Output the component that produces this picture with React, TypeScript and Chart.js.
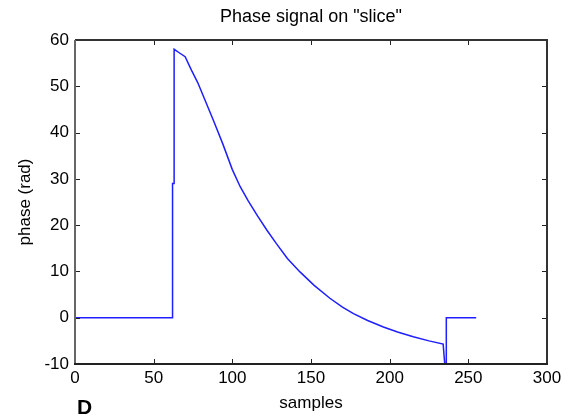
import React, { useEffect, useRef } from "react";
import { Chart, registerables } from "chart.js";

Chart.register(...registerables);

const titleText = 'Phase signal on "slice"';
const xLabel = "samples";
const yLabel = "phase (rad)";
const panelLetter = "D";

const sampleX = [0, 62, 62, 63, 63, 66, 70, 74, 78, 83, 88, 94, 100, 105, 110, 116, 122, 128, 135, 143, 152, 162, 170, 177, 186, 196, 205, 215, 225, 234, 235, 236, 236, 255];
const phase = [0, 0, 29, 29, 58, 57.3, 56.4, 53.5, 50.8, 46.7, 42.6, 37.5, 32, 28.3, 25.3, 22, 18.9, 16, 12.8, 9.9, 7.0, 4.2, 2.3, 0.9, -0.6, -2.0, -3.1, -4.1, -5.0, -5.7, -10, -10, 0, 0];

const xMin = 0, xMax = 300, xStep = 50;
const yMin = -10, yMax = 60, yStep = 10;

const FONT = "'Liberation Sans', Arial, sans-serif";

const boxPlugin = {
  id: "boxPlugin",
  afterDraw(chart: any) {
    const { ctx, chartArea } = chart;
    const { left, right, top, bottom } = chartArea;
    const xs = chart.scales.x;
    const ys = chart.scales.y;
    ctx.save();
    // ticks inside
    ctx.strokeStyle = "#222";
    ctx.lineWidth = 1;
    const tl = 5;
    xs.ticks.forEach((t: any) => {
      const px = Math.round(xs.getPixelForValue(t.value)) + 0.5;
      if (px <= left + 1 || px >= right - 1) return;
      ctx.beginPath();
      ctx.moveTo(px, bottom);
      ctx.lineTo(px, bottom - tl);
      ctx.moveTo(px, top);
      ctx.lineTo(px, top + tl);
      ctx.stroke();
    });
    ys.ticks.forEach((t: any) => {
      const py = Math.round(ys.getPixelForValue(t.value)) + 0.5;
      if (py <= top + 1 || py >= bottom - 1) return;
      ctx.beginPath();
      ctx.moveTo(left, py);
      ctx.lineTo(left + tl, py);
      ctx.moveTo(right, py);
      ctx.lineTo(right - tl, py);
      ctx.stroke();
    });
    // box
    ctx.lineWidth = 2;
    ctx.strokeStyle = "#333";
    ctx.beginPath();
    ctx.moveTo(left, top);
    ctx.lineTo(right, top);
    ctx.lineTo(right, bottom);
    ctx.stroke();
    ctx.strokeStyle = "#666";
    ctx.beginPath();
    ctx.moveTo(left, top);
    ctx.lineTo(left, bottom);
    ctx.stroke();
    ctx.strokeStyle = "#222";
    ctx.beginPath();
    ctx.moveTo(left - 1, bottom);
    ctx.lineTo(right + 1, bottom);
    ctx.stroke();
    // title
    ctx.fillStyle = "#000";
    ctx.font = `18px ${FONT}`;
    ctx.textAlign = "center";
    ctx.textBaseline = "middle";
    ctx.fillText(titleText, (left + right) / 2, 17);
    // panel letter
    ctx.font = `bold 21px ${FONT}`;
    ctx.textAlign = "left";
    ctx.fillText(panelLetter, 77, 408);
    ctx.restore();
  },
};

export default function App() {
  const ref = useRef<HTMLCanvasElement>(null);
  useEffect(() => {
    if (!ref.current) return;
    const points = sampleX.map((x, i) => ({ x, y: phase[i] }));
    const chart = new Chart(ref.current, {
      type: "line",
      data: {
        datasets: [
          {
            data: points,
            borderColor: "rgb(30,30,255)",
            borderWidth: 1.5,
            pointRadius: 0,
            tension: 0,
            fill: false,
          },
        ],
      },
      options: {
        animation: false,
        responsive: false,
        layout: { padding: { top: 40, right: 24, left: 0, bottom: 0 } },
        plugins: { legend: { display: false }, tooltip: { enabled: false }, title: { display: false } },
        scales: {
          x: {
            type: "linear",
            min: xMin,
            max: xMax,
            afterFit: (s: any) => { s.height = 55; },
            ticks: { stepSize: xStep, color: "#000", padding: 4, font: { size: 17, family: FONT } },
            grid: { display: false, drawTicks: false },
            border: { display: false },
            title: { display: true, text: xLabel, color: "#000", font: { size: 17, family: FONT }, padding: { top: 0, bottom: 5 } },
          },
          y: {
            type: "linear",
            min: yMin,
            max: yMax,
            afterFit: (s: any) => { s.width = 75; },
            ticks: { stepSize: yStep, color: "#000", padding: 6, font: { size: 17, family: FONT } },
            grid: { display: false, drawTicks: false },
            border: { display: false },
            title: { display: true, text: yLabel, color: "#000", font: { size: 17, family: FONT }, padding: { top: 15, bottom: 0 } },
          },
        },
      },
      plugins: [boxPlugin],
    });
    return () => chart.destroy();
  }, []);
  return (
    <div style={{ position: "fixed", left: 0, top: 0, width: 571, height: 419, background: "#fff" }}>
      <canvas ref={ref} width={571} height={419} />
    </div>
  );
}
